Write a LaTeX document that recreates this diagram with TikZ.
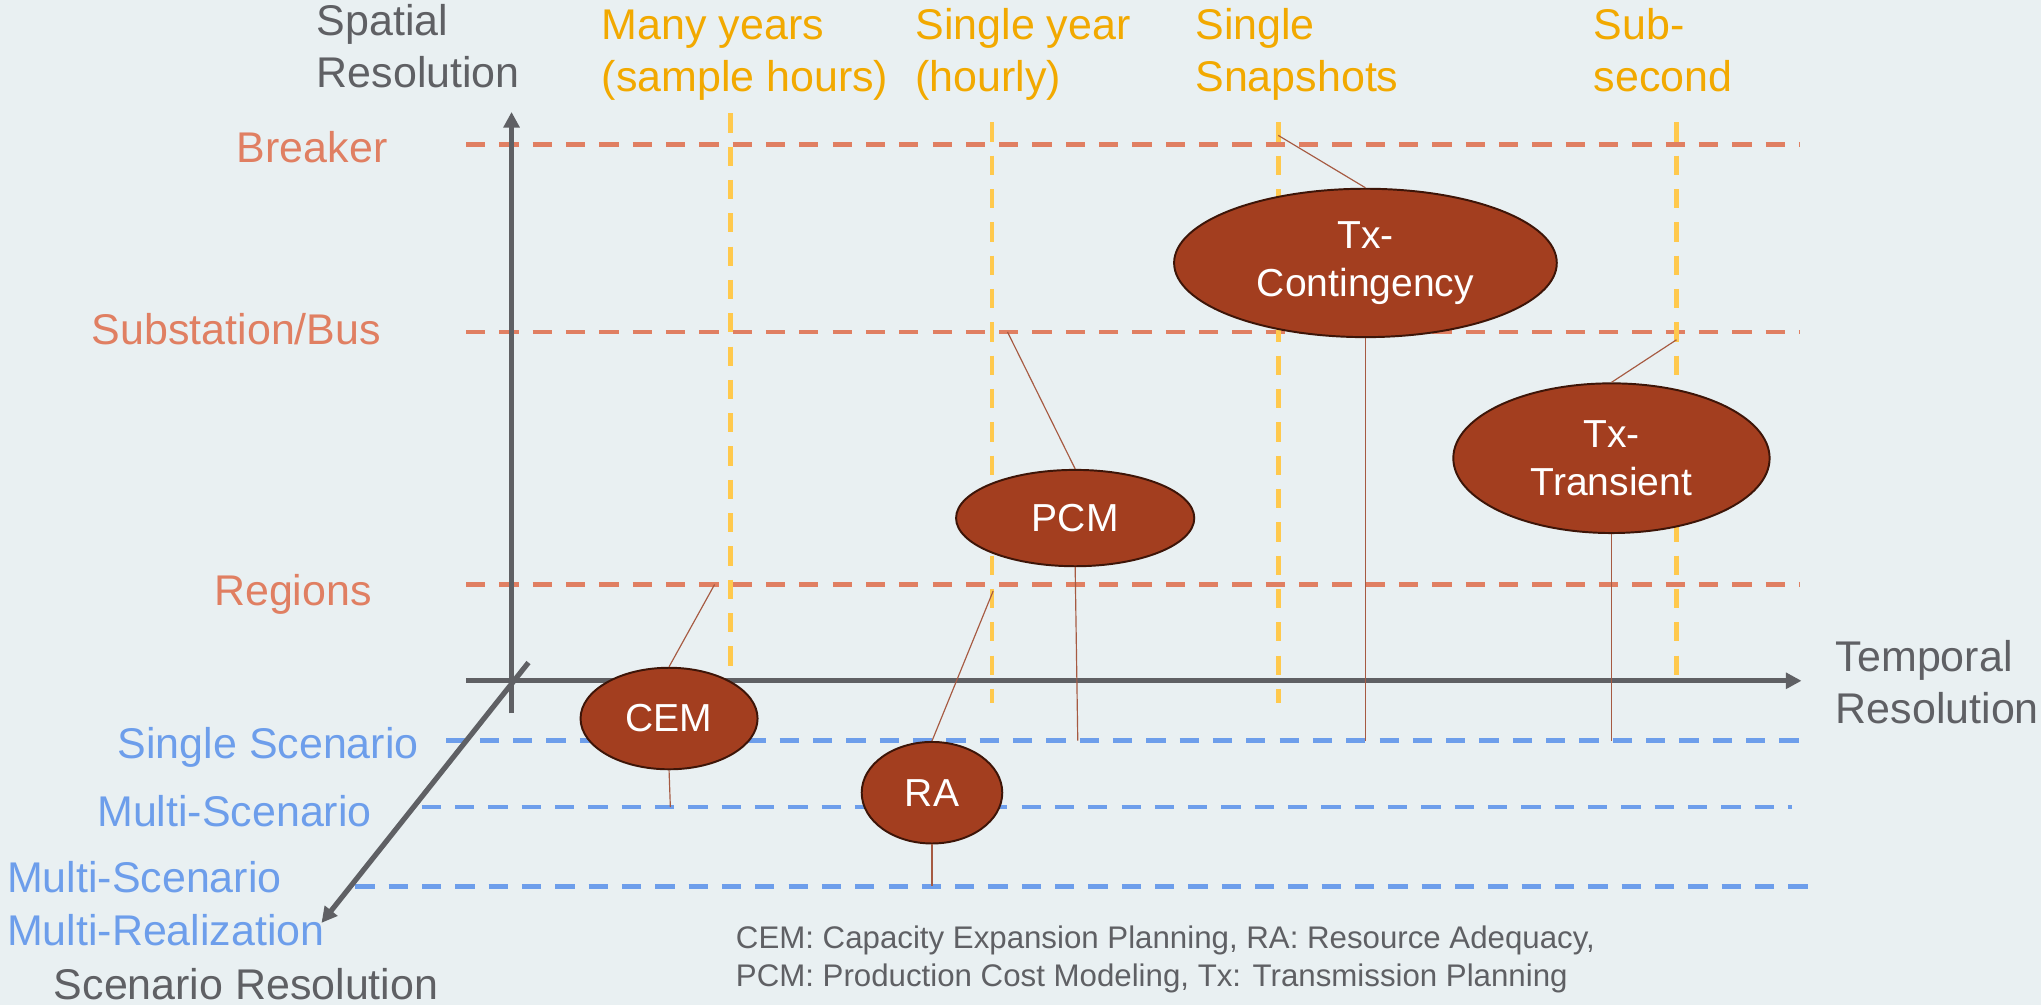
\documentclass[tikz,border=0pt]{standalone}
\usepackage{fontspec}
\setmainfont{Liberation Sans}
\usetikzlibrary{shapes.geometric, arrows.meta}

\definecolor{bgcol}{HTML}{E9F0F2}
\definecolor{axiscol}{HTML}{5F6064}
\definecolor{spacecol}{HTML}{E07F62}
\definecolor{timecol}{HTML}{F2A900}
\definecolor{timeline}{HTML}{FFC94D}
\definecolor{scencol}{HTML}{6D9EEB}
\definecolor{modelfill}{HTML}{A33E1F}
\definecolor{modeldraw}{HTML}{3D1508}
\definecolor{linkcol}{HTML}{A65A42}

\tikzset{
  axis/.style={line width=2pt, draw=axiscol, -{Triangle[length=6pt,width=6pt]}},
  gridline/.style={line width=1.8pt, dash pattern=on 7.4pt off 5.4pt},
  model/.style={ellipse, fill=modelfill, draw=modeldraw, line width=0.75pt,
    inner sep=0pt, text=white, align=center, font=\fontsize{15}{18.5}\selectfont},
  link/.style={draw=linkcol, line width=0.45pt},
  biglabel/.style={font=\fontsize{16.5}{20}\selectfont, align=left, inner sep=0pt},
}

\begin{document}
\begin{tikzpicture}[x=0.5pt, y=-0.5pt]
\useasboundingbox (0,0) rectangle (1568,772);
\fill[bgcol] (0,0) rectangle (1568,772);

% spatial levels
\draw[gridline, spacecol] (358,111) -- (1383,111);
\draw[gridline, spacecol] (358,255) -- (1383,255);
\draw[gridline, spacecol] (358,449) -- (1383,449);

% temporal levels
\draw[gridline, timeline] (561,87) -- (561,518);
\draw[gridline, timeline] (762,94) -- (762,540);
\draw[gridline, timeline] (982,94) -- (982,540);
\draw[gridline, timeline] (1288,94) -- (1288,520);

% scenario levels
\draw[gridline, scencol] (343,569) -- (1385,569);
\draw[gridline, scencol] (324,620) -- (1377,620);
\draw[gridline, scencol] (273,681) -- (1398,681);

% axes
\coordinate (Vbot) at (393,548);
\coordinate (Vtop) at (393,86);
\coordinate (Hleft) at (358,523);
\coordinate (Hright) at (1384,523);
\coordinate (Dtop) at (406,509);
\coordinate (Dbot) at (247,709);
\draw[axis] (Vbot) -- (Vtop);
\draw[axis] (Hleft) -- (Hright);
\draw[axis] (Dtop) -- (Dbot);

% models
\node[model, minimum width=68pt, minimum height=39pt] (cem) at (514,552) {CEM};
\node[model, minimum width=54pt, minimum height=39pt] (ra) at (716,609) {RA};
\node[model, minimum width=91.5pt, minimum height=37pt] (pcm) at (826,398) {PCM};
\node[model, minimum width=147pt, minimum height=57pt] (txc) at (1049,202) {Tx-\\Contingency};
\node[model, minimum width=121.5pt, minimum height=57.5pt] (txt) at (1238,352) {Tx-\\Transient};

% links to the levels
\coordinate (cemS) at (549,449);
\coordinate (cemZ) at (515,620);
\coordinate (raS) at (763,454);
\coordinate (raZ) at (716,681);
\coordinate (pcmS) at (774,255);
\coordinate (pcmZ) at (828,569);
\coordinate (txcS) at (982,104);
\coordinate (txcZ) at (1049,569);
\coordinate (txtS) at (1288,261);
\coordinate (txtZ) at (1238,569);
\draw[link] (cem.north) -- (cemS);
\draw[link] (cem.south) -- (cemZ);
\draw[link] (ra.north) -- (raS);
\draw[link] (ra.south) -- (raZ);
\draw[link] (pcm.north) -- (pcmS);
\draw[link] (pcm.south) -- (pcmZ);
\draw[link] (txc.north) -- (txcS);
\draw[link] (txc.south) -- (txcZ);
\draw[link] (txt.north) -- (txtS);
\draw[link] (txt.south) -- (txtZ);

% axis titles (base = last line)
\node[biglabel, text=axiscol, anchor=base west] (spatial) at (243,67) {Spatial\\Resolution};
\node[biglabel, text=axiscol, anchor=base west] (temporal) at (1410,556) {Temporal\\Resolution};
\node[biglabel, text=axiscol, anchor=base west] (scenario) at (41,768) {Scenario Resolution};

% temporal labels
\node[biglabel, text=timecol, anchor=base west] (manyyears) at (462,70) {Many years\\(sample hours)};
\node[biglabel, text=timecol, anchor=base west] (singleyear) at (703,70) {Single year\\(hourly)};
\node[biglabel, text=timecol, anchor=base west] (snapshots) at (918,70) {Single\\Snapshots};
\node[biglabel, text=timecol, anchor=base west] (subsecond) at (1224,70) {Sub-\\second};

% spatial labels
\node[biglabel, text=spacecol, anchor=base east] (breaker) at (298,125) {Breaker};
\node[biglabel, text=spacecol, anchor=base east] (substation) at (293,265) {Substation/Bus};
\node[biglabel, text=spacecol, anchor=base east] (regions) at (286,465) {Regions};

% scenario labels
\node[biglabel, text=scencol, anchor=base east] (single) at (322,583) {Single Scenario};
\node[biglabel, text=scencol, anchor=base east] (multi) at (286,635) {Multi-Scenario};
\node[biglabel, text=scencol, anchor=base west] (multireal) at (5,726) {Multi-Scenario\\Multi-Realization};

% legend
\node[font=\fontsize{12}{14.25}\selectfont, text=axiscol, align=left, anchor=base west, inner sep=0pt] (legend) at (565,757.5)
  {CEM: Capacity Expansion Planning, RA: Resource Adequacy,\\PCM: Production Cost Modeling, Tx: Transmission Planning};
\end{tikzpicture}
\end{document}
